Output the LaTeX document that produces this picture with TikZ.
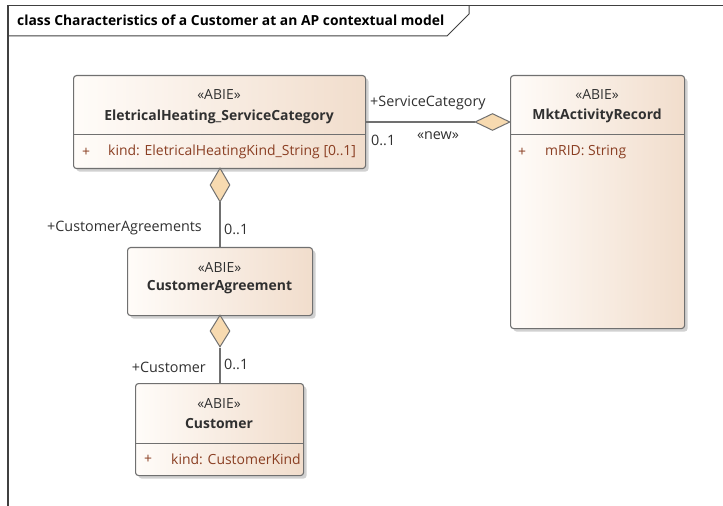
\documentclass[tikz,border=0pt]{standalone}
\usepackage{fontspec}
\setmainfont{Open Sans}
\usetikzlibrary{shapes.geometric,shadows}
\definecolor{lineg}{HTML}{707070}
\definecolor{txtd}{HTML}{303030}
\definecolor{attrc}{HTML}{8A3E22}
\definecolor{boxl}{HTML}{FFFCF9}
\definecolor{boxr}{HTML}{F1DDCC}
\definecolor{diafill}{HTML}{F7DAB0}
\begin{document}
\begin{tikzpicture}[x=1bp,y=-1bp,
  classbox/.style={draw=lineg, line width=1.1bp, rounded corners=3bp, left color=boxl, right color=boxr,
    drop shadow={shadow xshift=3bp, shadow yshift=-3bp, fill=black, opacity=0.18},
    anchor=north west, inner sep=0},
  stereo/.style={text=txtd, font=\fontsize{14}{16}\selectfont, inner sep=0},
  cname/.style={text=txtd, font=\fontsize{14}{16}\selectfont\bfseries, inner sep=0},
  attr/.style={text=attrc, font=\fontsize{14}{16}\selectfont, inner sep=0, anchor=west},
  sep/.style={draw=lineg, line width=1bp},
  conn/.style={draw=lineg, line width=1.1bp},
  agg/.style={diamond, draw=lineg, line width=1bp, fill=diafill, inner sep=0},
  lbl/.style={text=txtd, font=\fontsize{14.4}{16}\selectfont, inner sep=0}
]
\useasboundingbox (0,0) rectangle (723,506);
% frame
\draw[line width=1.3bp, draw=black!75] (8,506) -- (8,5.5) -- (723,5.5);
\draw[line width=1bp, draw=black!75] (469,5.5) -- (469,14) -- (447,36) -- (8,36);
\node[anchor=west, inner sep=0, text=black, font=\fontsize{13.9}{16}\selectfont\bfseries] (title) at (17,20) {class Characteristics of a Customer at an AP contextual model};

% EletricalHeating_ServiceCategory
\node[classbox, minimum width=292bp, minimum height=93bp] (esc) at (73,75) {};
\draw[sep] (esc.west |- 0,135) -- (esc.east |- 0,135);
\node[stereo] (escS) at (219,95) {«ABIE»};
\node[cname] (escN) at (219,117) {EletricalHeating\_ServiceCategory};
\node[attr] (escP) at (82,152) {+};
\node[attr] (escA) at (108,152) {kind: EletricalHeatingKind\_String [0..1]};

% MktActivityRecord
\node[classbox, minimum width=174bp, minimum height=253bp] (mar) at (510,75) {};
\draw[sep] (mar.west |- 0,135) -- (mar.east |- 0,135);
\node[stereo] (marS) at (597,95) {«ABIE»};
\node[cname] (marN) at (597,116) {MktActivityRecord};
\node[attr] (marP) at (518,152) {+};
\node[attr] (marA) at (545,152) {mRID: String};

% CustomerAgreement
\node[classbox, minimum width=185bp, minimum height=68bp] (ca) at (127,247) {};
\node[stereo] (caS) at (219.5,268) {«ABIE»};
\node[cname] (caN) at (219.5,287) {CustomerAgreement};

% Customer
\node[classbox, minimum width=168bp, minimum height=92bp] (cu) at (135,383) {};
\draw[sep] (cu.west |- 0,443) -- (cu.east |- 0,443);
\node[stereo] (cuS) at (219,403) {«ABIE»};
\node[cname] (cuN) at (219,424) {Customer};
\node[attr] (cuP) at (144,459) {+};
\node[attr] (cuA) at (171,459) {kind: CustomerKind};

% aggregation ServiceCategory
\node[agg, minimum width=35bp, minimum height=17bp] (d1) at (492.5,122) {};
\draw[conn] (esc.east |- d1.west) -- (d1.west);
\node[lbl, anchor=west] (l1) at (370,103) {+ServiceCategory};
\node[lbl, anchor=west] (l2) at (371,140) {0..1};
\node[lbl] (l3) at (438,136) {«new»};

% aggregation CustomerAgreements
\node[agg, minimum width=20bp, minimum height=34bp] (d2) at (220,185) {};
\draw[conn] (d2.south) -- (d2.south |- ca.north);
\node[lbl, anchor=east] (l4) at (202,228) {+CustomerAgreements};
\node[lbl, anchor=west] (l5) at (224,229) {0..1};

% aggregation Customer
\node[agg, minimum width=20bp, minimum height=32bp] (d3) at (220,331) {};
\draw[conn] (d3.south) -- (d3.south |- cu.north);
\node[lbl, anchor=east] (l6) at (206,367) {+Customer};
\node[lbl, anchor=west] (l7) at (224,364) {0..1};
\end{tikzpicture}
\end{document}
